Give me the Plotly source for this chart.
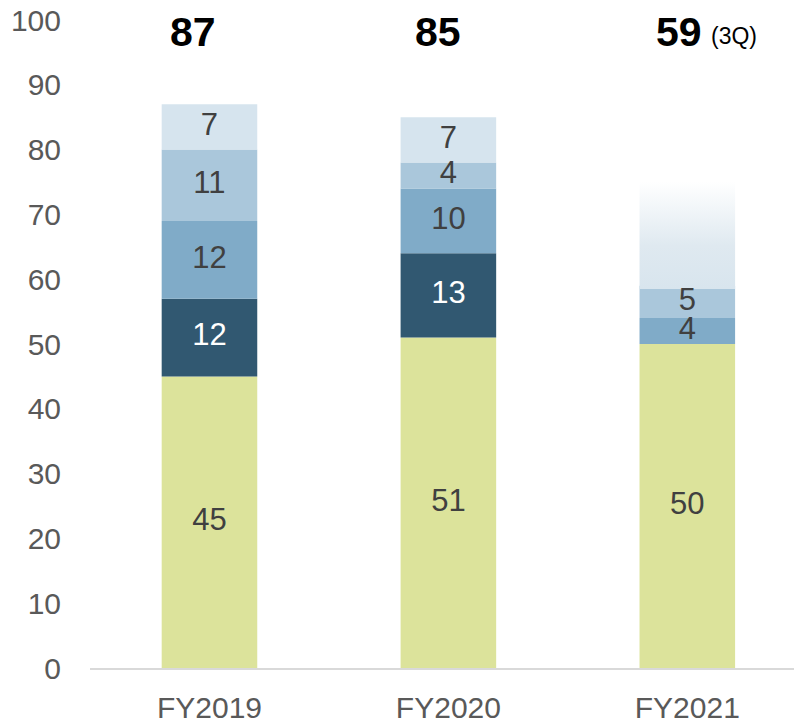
import plotly.graph_objects as go

years = ['FY2019', 'FY2020', 'FY2021']
seg_green = [45, 51, 50]
seg_dark = [12, 13, 0]
seg_mid = [12, 10, 4]
seg_light = [11, 4, 5]
seg_pale = [7, 7, 0]
totals = ['87', '85', '59']
fy2021_outlook = 75

segments = [
    (seg_green, '#dce39b', '#404040'),
    (seg_dark, '#315871', '#ffffff'),
    (seg_mid, '#80abc8', '#404040'),
    (seg_light, '#aac7db', '#404040'),
    (seg_pale, '#d6e4ee', '#404040'),
]

FONT = 'Liberation Sans, Arial, sans-serif'
xpos = list(range(len(years)))
bar_w = 0.4

fig = go.Figure()

base = [0] * len(years)
label_x, label_y, label_t, label_c = [], [], [], []
for vals, color, tcolor in segments:
    fig.add_trace(go.Bar(
        x=xpos, y=vals, base=base, width=bar_w,
        marker=dict(color=color, line=dict(width=0)),
        hoverinfo='skip', showlegend=False,
    ))
    for i, v in enumerate(vals):
        if v > 0:
            label_x.append(xpos[i])
            label_y.append(base[i] + v / 2)
            label_t.append(str(v))
            label_c.append(tcolor)
    base = [b + v for b, v in zip(base, vals)]

# faded outlook block above FY2021
i = 2
x0, x1 = xpos[i] - bar_w / 2, xpos[i] + bar_w / 2
fig.add_trace(go.Scatter(
    x=[x0, x1, x1, x0, x0],
    y=[base[i] - 0.5, base[i] - 0.5, fy2021_outlook, fy2021_outlook, base[i] - 0.5],
    mode='none', fill='toself',
    fillgradient=dict(type='vertical',
                      colorscale=[[0, '#d8e5ee'], [0.4, '#dfe9f0'], [1, '#ffffff']]),
    hoverinfo='skip', showlegend=False,
))

fig.add_trace(go.Scatter(
    x=label_x, y=label_y, text=label_t, mode='text',
    textfont=dict(family=FONT, size=31, color=label_c),
    hoverinfo='skip', showlegend=False,
))

# totals above bars
shifts = [-16, -10, -8]
for x, t, s in zip(xpos, totals, shifts):
    fig.add_annotation(x=x, y=98.1, text='<b>%s</b>' % t, showarrow=False,
                       xshift=s, font=dict(family=FONT, size=41, color='#000000'))
fig.add_annotation(x=xpos[2], y=97.6, text='(3Q)', showarrow=False,
                   xanchor='left', xshift=22,
                   font=dict(family=FONT, size=23, color='#000000'))

# page body has an 8px margin, so the figure is sized/offset to compensate
fig.update_layout(
    width=794, height=714,
    margin=dict(l=82, r=0, t=12, b=54),
    plot_bgcolor='white', paper_bgcolor='white',
    dragmode=False,
    barmode='overlay',
    xaxis=dict(
        range=[-0.5, 2.48], tickvals=xpos, ticktext=years,
        showgrid=False, zeroline=False, automargin=False,
        showline=True, linecolor='#d9d9d9', linewidth=2,
        ticks='', tickfont=dict(family=FONT, size=30, color='#595959'),
        ticklabelstandoff=12, ticklabeloverflow='allow',
    ),
    yaxis=dict(
        range=[0, 100], dtick=10, showgrid=False, zeroline=False,
        showline=False, ticks='', automargin=False,
        tickfont=dict(family=FONT, size=30, color='#595959'),
        ticklabelstandoff=28, ticklabeloverflow='allow',
    ),
)

fig.write_html('out.html')
